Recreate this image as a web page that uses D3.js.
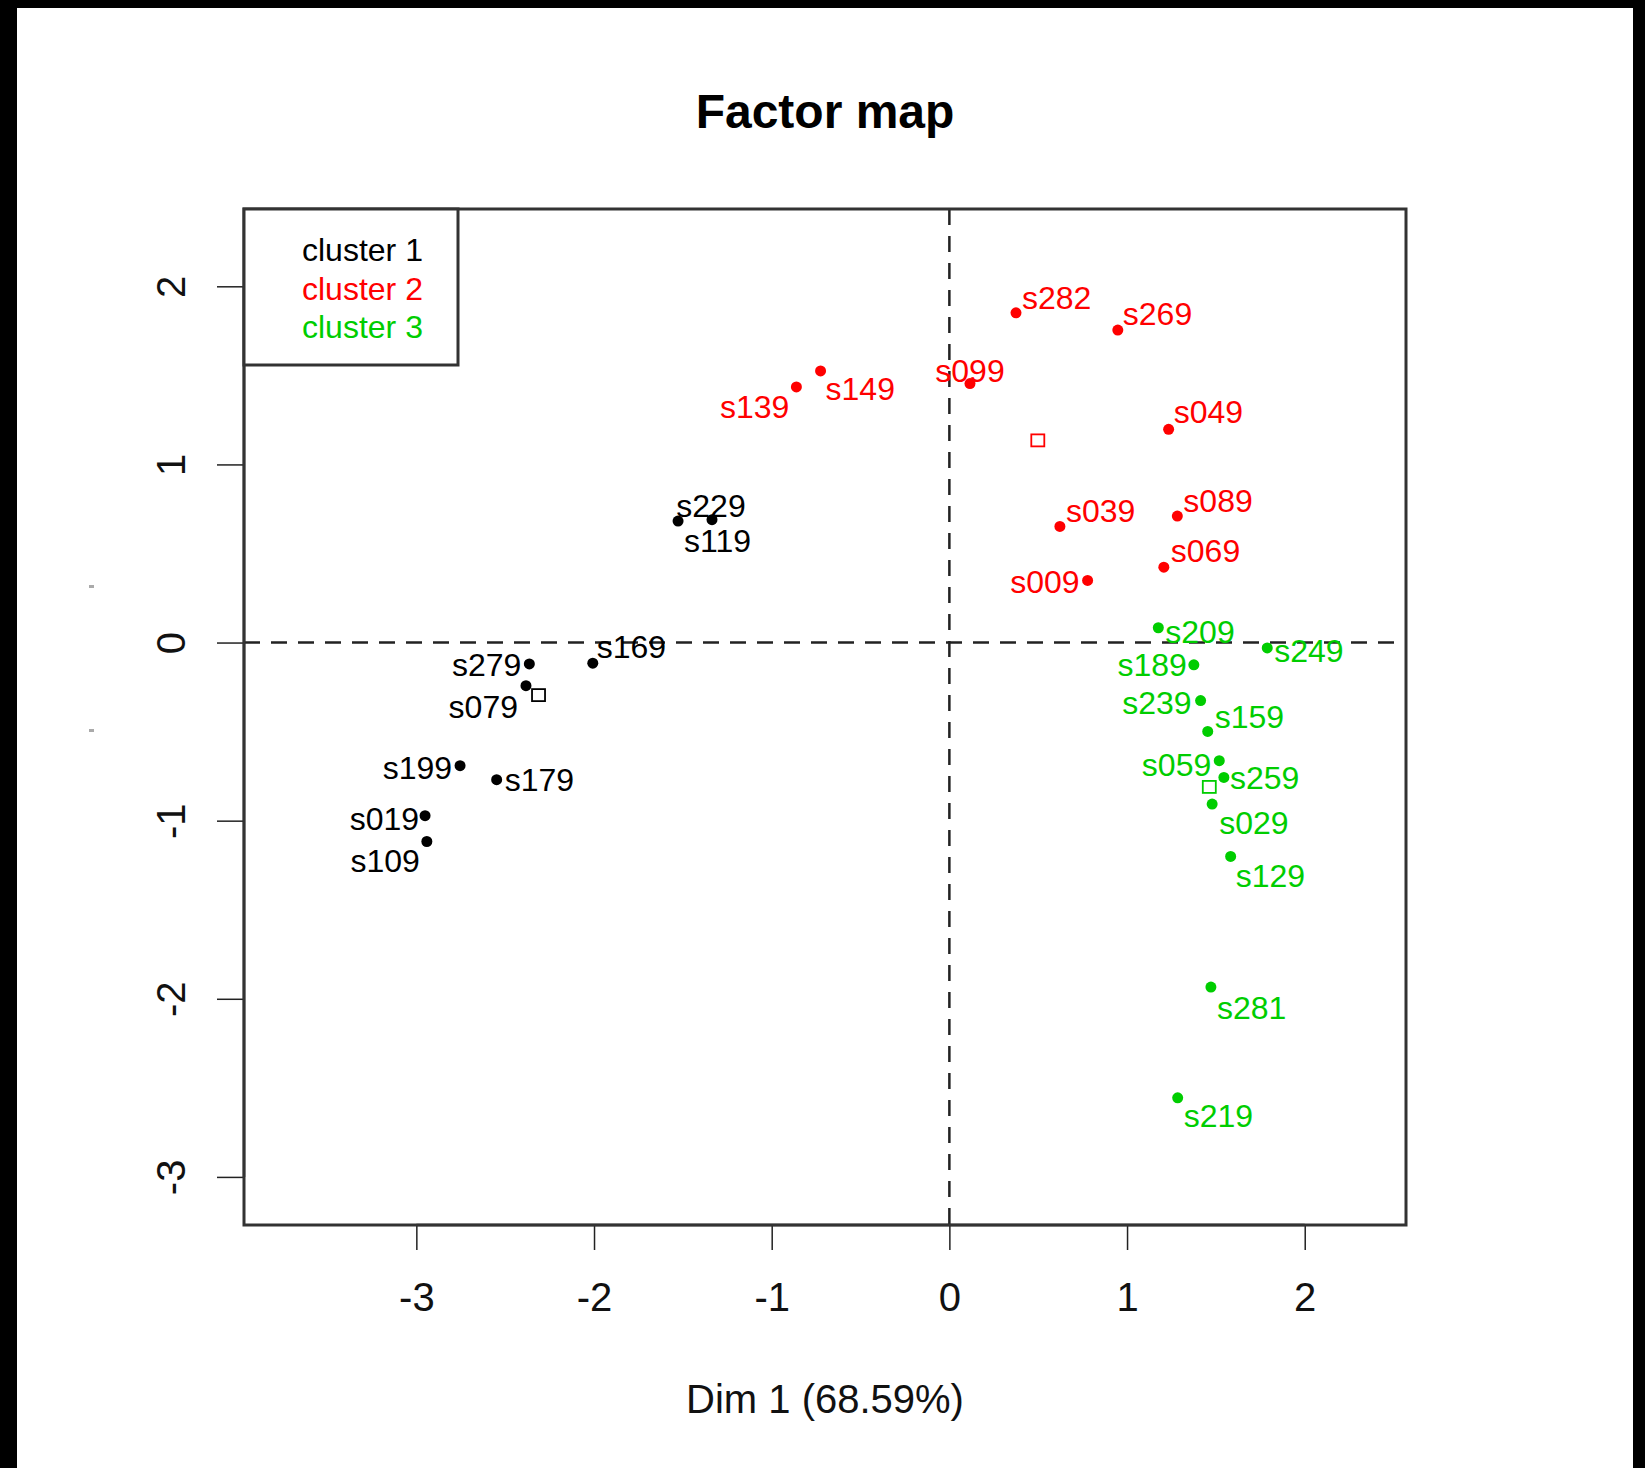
<!DOCTYPE html>
<html>
<head>
<meta charset="utf-8">
<script src="https://cdn.jsdelivr.net/npm/d3@7"></script>
<style>
  html, body { margin: 0; padding: 0; background: #000; }
  svg { display: block; }
  text { font-family: "Liberation Sans", Arial, Helvetica, sans-serif; }
</style>
</head>
<body>
<svg id="chart" width="1645" height="1468"></svg>
<script>
// Individuals on the first factorial plane, coloured by cluster
const individuals = ["s282","s269","s149","s139","s099","s049","s089","s039","s069","s009",
                     "s229","s119","s279","s079","s169","s199","s179","s019","s109",
                     "s209","s249","s189","s239","s159","s059","s259","s029","s129","s281","s219"];
const dim1 = [0.375, 0.948, -0.725, -0.861, 0.116, 1.234, 1.283, 0.622, 1.207, 0.778,
              -1.336, -1.527, -2.364, -2.383, -2.007, -2.754, -2.548, -2.951, -2.941,
              1.176, 1.789, 1.376, 1.414, 1.454, 1.519, 1.545, 1.479, 1.583, 1.472, 1.285];
const dim2 = [1.851, 1.754, 1.525, 1.435, 1.454, 1.197, 0.710, 0.652, 0.423, 0.349,
              0.690, 0.682, -0.120, -0.242, -0.116, -0.691, -0.770, -0.972, -1.117,
              0.083, -0.030, -0.125, -0.326, -0.499, -0.663, -0.757, -0.907, -1.201, -1.934, -2.556];
const cluster = [2,2,2,2,2,2,2,2,2,2,
                 1,1,1,1,1,1,1,1,1,
                 3,3,3,3,3,3,3,3,3,3,3];
const clusterNames = ["cluster 1", "cluster 2", "cluster 3"];
const xTicks = [-3, -2, -1, 0, 1, 2];
const yTicks = [-3, -2, -1, 0, 1, 2];
const titleText = "Factor map";
const xTitle = "Dim 1 (68.59%)";

// Styling and layout
const clusterColor = { 1: "#000000", 2: "#FF0000", 3: "#00CD00" };
const W = 1645, H = 1468;
const plot = { left: 244, right: 1406, top: 209, bottom: 1225 };
const tickFmt = d => String(d);   // plain hyphen-minus, as in base graphics

// Label placement next to each point: [dx, dy, anchor]
const labelNudge = {
  s282: [6, -4, "start"],  s269: [5, -5, "start"],  s149: [5, 29, "start"],
  s139: [-7, 31, "end"],   s099: [0, -2, "middle"], s049: [5, -6, "start"],
  s089: [6, -4, "start"],  s039: [6, -4, "start"],  s069: [7, -5, "start"],
  s009: [-8, 13, "end"],   s229: [-1, -3, "middle"], s119: [6, 31, "start"],
  s279: [-8, 12, "end"],   s079: [-8, 32, "end"],   s169: [4, -5, "start"],
  s199: [-8, 13, "end"],   s179: [8, 11, "start"],  s019: [-6, 14, "end"],
  s109: [-7, 30, "end"],   s209: [7, 15, "start"],  s249: [7, 14, "start"],
  s189: [-7, 11, "end"],   s239: [-9, 13, "end"],   s159: [7, -3, "start"],
  s059: [-8, 15, "end"],   s259: [6, 12, "start"],  s029: [7, 30, "start"],
  s129: [5, 31, "start"],  s281: [6, 32, "start"],  s219: [6, 29, "start"]
};

const svg = d3.select("#chart");

// page: black frame on top, left and right, white canvas inside
svg.append("rect").attr("x", 0).attr("y", 0).attr("width", W).attr("height", H).attr("fill", "#000");
svg.append("rect").attr("x", 17).attr("y", 8).attr("width", 1633 - 17).attr("height", H - 8).attr("fill", "#fff");

const x = d3.scaleLinear().domain([-3.97, 2.57]).range([plot.left, plot.right]);
const y = d3.scaleLinear().domain([-3.27, 2.434]).range([plot.bottom, plot.top]);

const points = individuals.map((name, i) => ({ name, x: dim1[i], y: dim2[i], cluster: cluster[i] }));

// title
svg.append("text")
  .attr("x", (plot.left + plot.right) / 2).attr("y", 128)
  .attr("text-anchor", "middle").attr("font-size", 48).attr("font-weight", "bold")
  .attr("fill", "#000").text(titleText);

// axis title
svg.append("text")
  .attr("x", (plot.left + plot.right) / 2).attr("y", 1413)
  .attr("text-anchor", "middle").attr("font-size", 40)
  .attr("fill", "#111").text(xTitle);

// faint marks left of the y axis
svg.selectAll("rect.speck").data([586, 730]).join("rect")
  .attr("class", "speck").attr("x", 89).attr("y", d => d - 1)
  .attr("width", 5).attr("height", 3).attr("fill", "#aaa");

// clip region for reference lines
svg.append("clipPath").attr("id", "plotclip")
  .append("rect").attr("x", plot.left).attr("y", plot.top)
  .attr("width", plot.right - plot.left).attr("height", plot.bottom - plot.top);

const inner = svg.append("g").attr("clip-path", "url(#plotclip)");

// dashed lines through the origin
inner.append("line")
  .attr("x1", plot.left).attr("x2", plot.right).attr("y1", y(0)).attr("y2", y(0))
  .attr("stroke", "#222").attr("stroke-width", 2.5).attr("stroke-dasharray", "16,11");
inner.append("line")
  .attr("x1", x(0)).attr("x2", x(0)).attr("y1", plot.top).attr("y2", plot.bottom)
  .attr("stroke", "#222").attr("stroke-width", 2.5).attr("stroke-dasharray", "16,11");

// x axis
const xAxis = svg.append("g")
  .attr("transform", `translate(0,${plot.bottom})`)
  .call(d3.axisBottom(x).tickValues(xTicks).tickFormat(tickFmt).tickSize(25).tickPadding(33));
xAxis.select(".domain").remove();
xAxis.selectAll(".tick line").attr("stroke", "#222").attr("stroke-width", 1.5);
xAxis.selectAll(".tick text").attr("font-size", 40).attr("fill", "#111")
  .attr("font-family", "Liberation Sans, Arial, sans-serif");
xAxis.append("line")
  .attr("x1", x(xTicks[0])).attr("x2", x(xTicks[xTicks.length - 1]))
  .attr("y1", 0).attr("y2", 0).attr("stroke", "#222").attr("stroke-width", 2.5);

// y axis with labels running bottom-to-top
const yAxis = svg.append("g")
  .attr("transform", `translate(${plot.left},0)`)
  .call(d3.axisLeft(y).tickValues(yTicks).tickFormat(tickFmt).tickSize(27));
yAxis.select(".domain").remove();
yAxis.selectAll(".tick line").attr("stroke", "#222").attr("stroke-width", 1.5);
yAxis.selectAll(".tick text")
  .attr("x", null).attr("dy", null).attr("y", 0)
  .attr("text-anchor", "middle")
  .attr("transform", "translate(-59,0) rotate(-90)")
  .attr("font-size", 40).attr("fill", "#111")
  .attr("font-family", "Liberation Sans, Arial, sans-serif");
yAxis.append("line")
  .attr("x1", 0).attr("x2", 0)
  .attr("y1", y(yTicks[0])).attr("y2", y(yTicks[yTicks.length - 1]))
  .attr("stroke", "#222").attr("stroke-width", 2.5);

// plot frame
svg.append("rect")
  .attr("x", plot.left).attr("y", plot.top)
  .attr("width", plot.right - plot.left).attr("height", plot.bottom - plot.top)
  .attr("fill", "none").attr("stroke", "#333").attr("stroke-width", 3);

// individuals
svg.append("g").selectAll("circle").data(points).join("circle")
  .attr("cx", d => x(d.x)).attr("cy", d => y(d.y)).attr("r", 5.5)
  .attr("fill", d => clusterColor[d.cluster]);

// individual labels
svg.append("g").selectAll("text").data(points).join("text")
  .attr("x", d => x(d.x) + labelNudge[d.name][0])
  .attr("y", d => y(d.y) + labelNudge[d.name][1])
  .attr("text-anchor", d => labelNudge[d.name][2])
  .attr("font-size", 32)
  .attr("fill", d => clusterColor[d.cluster])
  .text(d => d.name);

// cluster centres (mean of members) as open squares
const centres = [1, 2, 3].map(c => {
  const members = points.filter(p => p.cluster === c);
  return { cluster: c, x: d3.mean(members, p => p.x), y: d3.mean(members, p => p.y) };
});
svg.append("g").selectAll("rect").data(centres).join("rect")
  .attr("x", d => x(d.x) - 6.5).attr("y", d => y(d.y) - 6)
  .attr("width", 13).attr("height", 12)
  .attr("fill", "none").attr("stroke", d => clusterColor[d.cluster]).attr("stroke-width", 1.8);

// legend
const legend = svg.append("g");
legend.append("rect")
  .attr("x", plot.left).attr("y", plot.top).attr("width", 214).attr("height", 156)
  .attr("fill", "#fff").attr("stroke", "#333").attr("stroke-width", 3);
legend.selectAll("text").data(clusterNames).join("text")
  .attr("x", 302).attr("y", (d, i) => 261 + i * 38.5)
  .attr("font-size", 32)
  .attr("fill", (d, i) => clusterColor[i + 1])
  .text(d => d);
</script>
</body>
</html>
